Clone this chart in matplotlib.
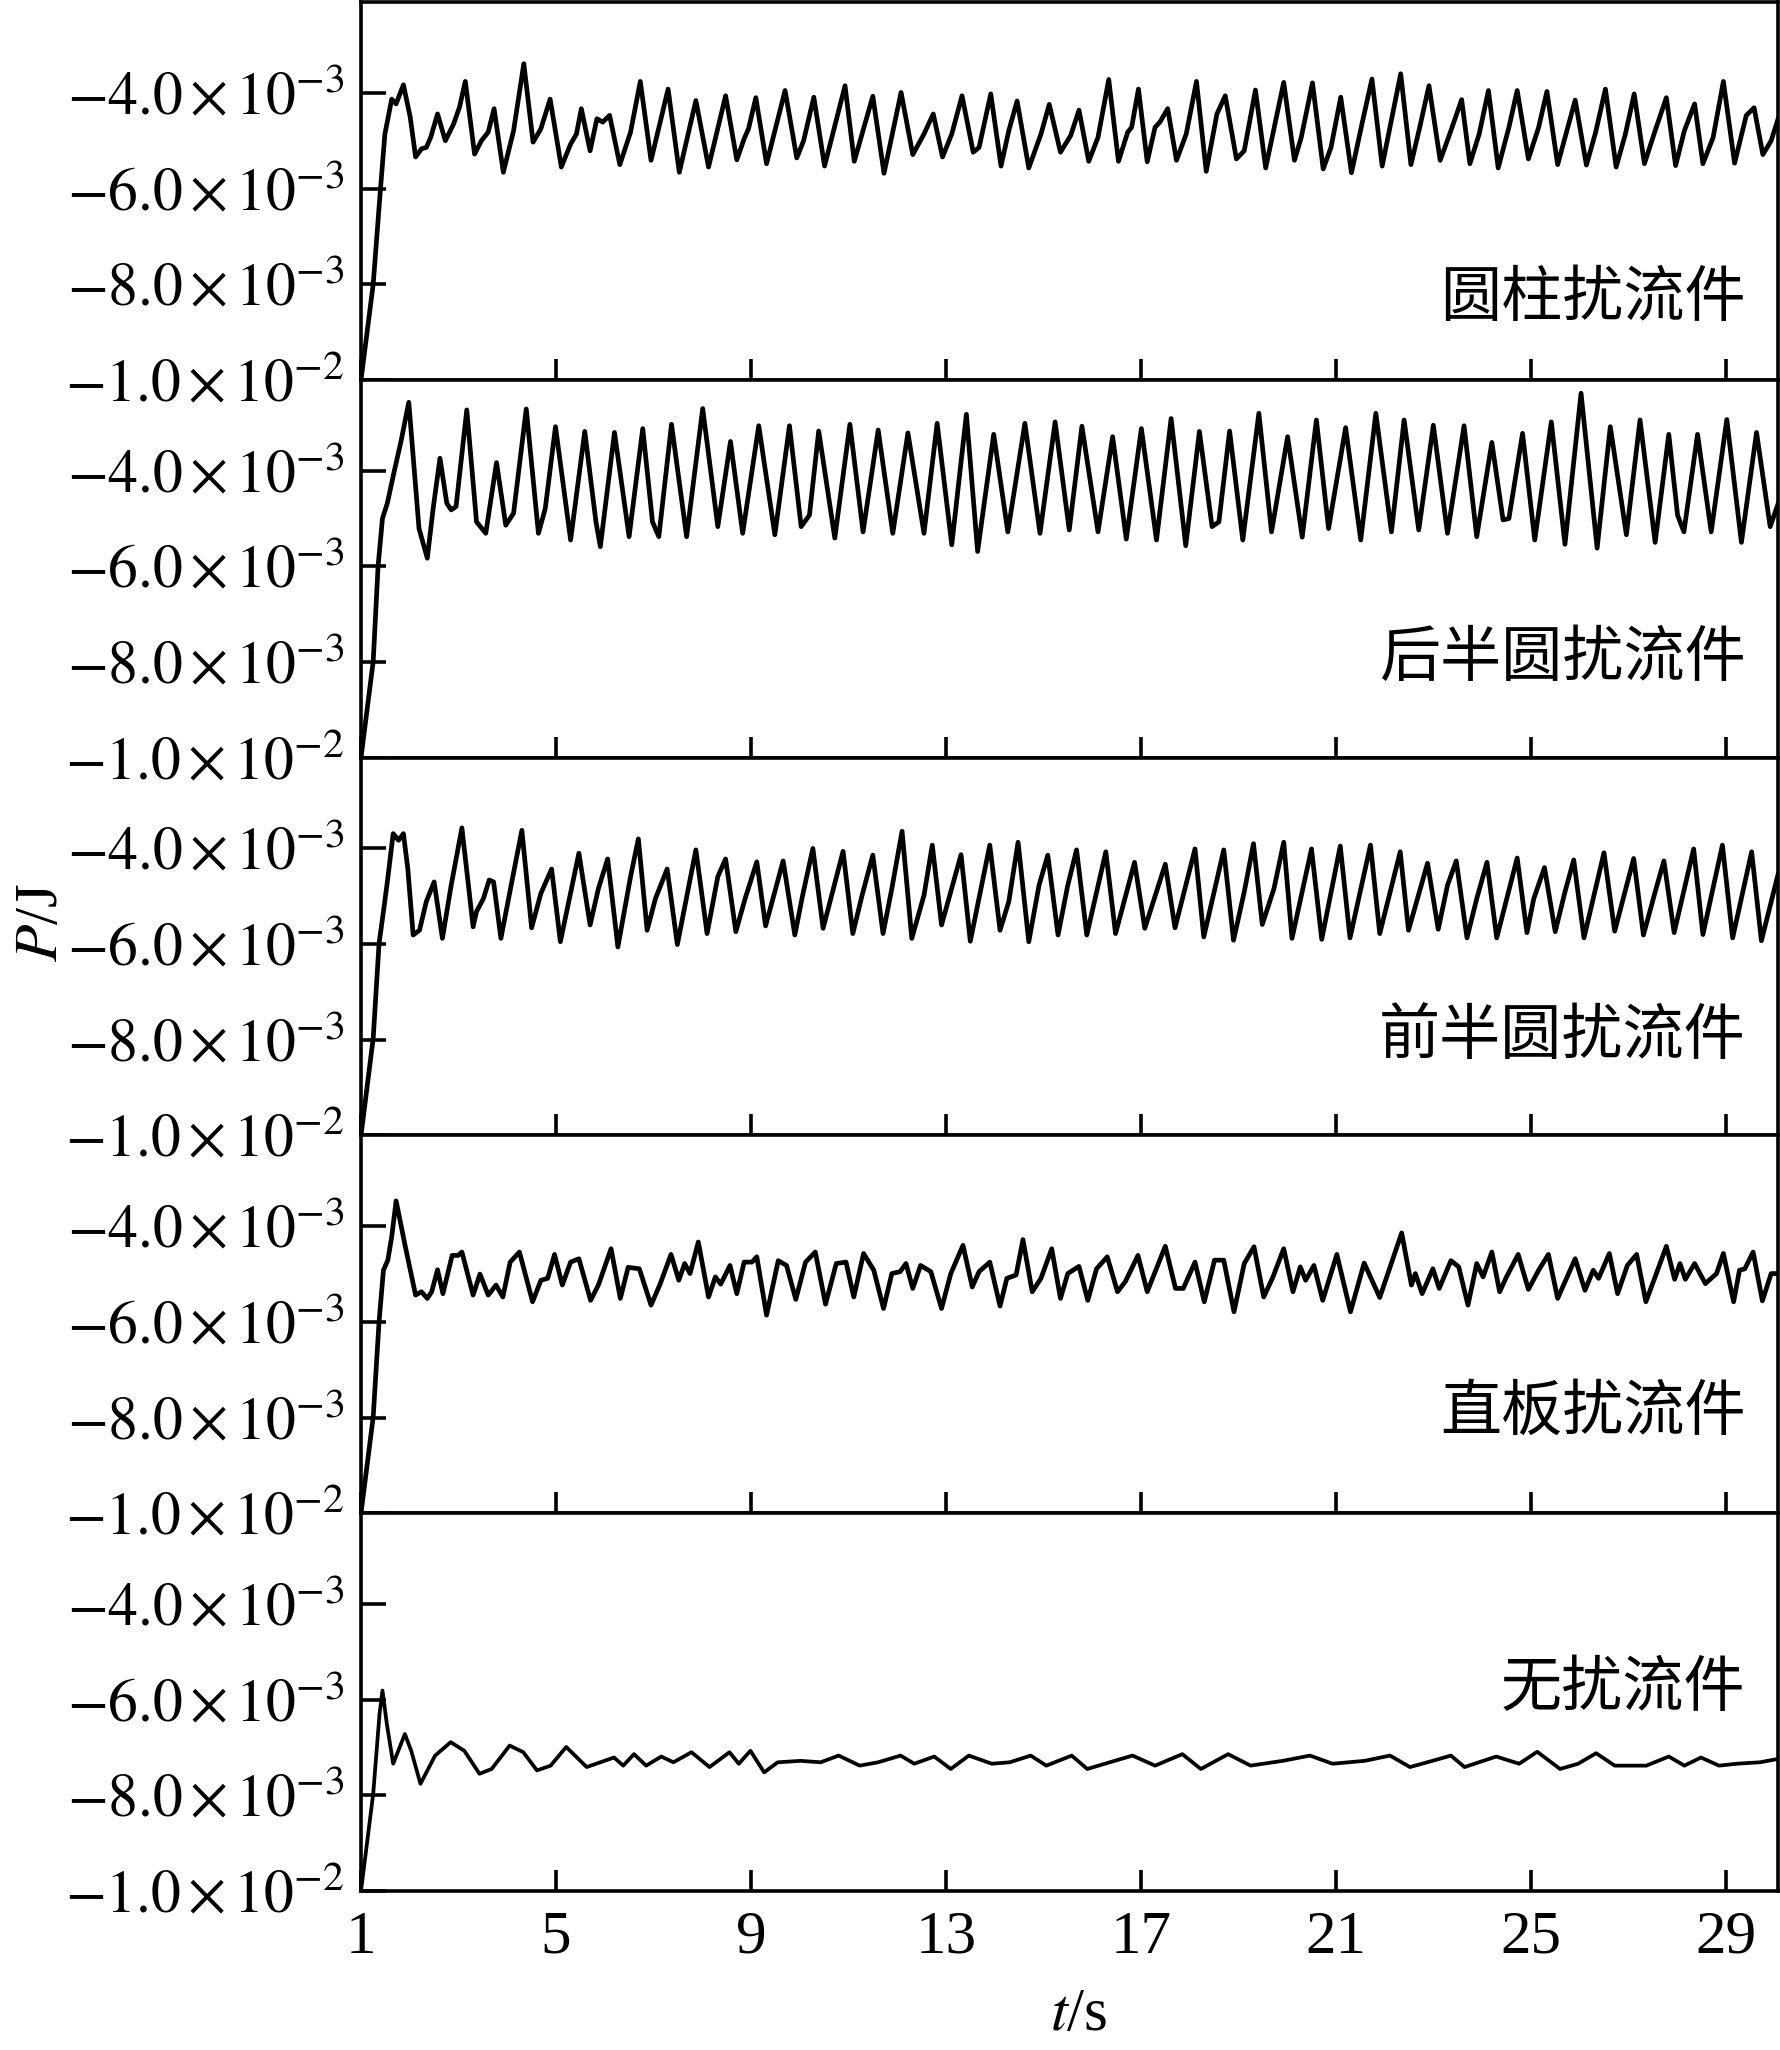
import numpy as np
import matplotlib.pyplot as plt

plt.rcParams['mathtext.fontset'] = 'stix'
plt.rcParams['font.family'] = ['Liberation Serif', 'DejaVu Serif']

# dados (t em s, P em 1e-3 J)
t_cyl = [1.0, 1.25, 1.40, 1.49, 1.63, 1.72, 1.87, 2.01, 2.12, 2.24, 2.34, 2.43, 2.57, 2.73, 2.90, 3.02, 3.14, 3.33,
         3.47, 3.61, 3.73, 3.92, 4.13, 4.34, 4.53, 4.69, 4.88, 5.11, 5.30, 5.42, 5.52, 5.70, 5.84, 5.96, 6.10, 6.31,
         6.53, 6.73, 6.95, 7.30, 7.53, 7.87, 8.13, 8.48, 8.71, 8.86, 8.95, 9.10, 9.32, 9.70, 9.94, 10.08, 10.29,
         10.51, 10.93, 11.12, 11.50, 11.73, 12.08, 12.32, 12.55, 12.74, 12.93, 13.12, 13.33, 13.56, 13.68, 13.92,
         14.13, 14.29, 14.46, 14.70, 14.95, 15.12, 15.35, 15.56, 15.73, 15.93, 16.12, 16.34, 16.54, 16.73, 16.81,
         16.95, 17.13, 17.29, 17.39, 17.55, 17.73, 17.93, 18.14, 18.34, 18.56, 18.73, 18.96, 19.12, 19.35, 19.56,
         19.93, 20.15, 20.29, 20.52, 20.74, 20.90, 21.10, 21.32, 21.55, 21.74, 21.95, 22.33, 22.54, 22.72, 22.91,
         23.14, 23.36, 23.58, 23.75, 23.94, 24.13, 24.33, 24.55, 24.72, 24.95, 25.16, 25.33, 25.55, 25.72, 25.91,
         26.14, 26.33, 26.53, 26.75, 26.94, 27.12, 27.33, 27.55, 27.78, 27.97, 28.15, 28.36, 28.53, 28.74, 28.95,
         29.18, 29.42, 29.58, 29.76, 29.93, 30.07]
p_cyl = [-10.0, -8.0, -6.0, -4.86, -4.13, -4.23, -3.83, -4.51, -5.34, -5.17, -5.14, -4.93, -4.44, -5.0, -4.65,
         -4.30, -3.76, -5.28, -5.0, -4.82, -4.33, -5.66, -4.79, -3.39, -5.03, -4.75, -4.13, -5.55, -5.07, -4.86,
         -4.33, -5.21, -4.54, -4.61, -4.47, -5.50, -4.82, -3.76, -5.41, -3.92, -5.66, -4.16, -5.55, -4.06, -5.40,
         -4.96, -4.75, -4.10, -5.48, -3.95, -5.36, -5.0, -4.09, -5.53, -3.85, -5.43, -4.07, -5.68, -3.99, -5.29,
         -4.86, -4.44, -5.34, -4.86, -4.06, -5.24, -5.14, -4.02, -5.53, -4.79, -4.17, -5.57, -4.86, -4.24, -5.24,
         -4.89, -4.36, -5.43, -4.93, -3.72, -5.43, -4.82, -4.72, -3.92, -5.44, -4.72, -4.61, -4.33, -5.41, -4.86,
         -3.76, -5.64, -4.44, -4.06, -5.38, -5.21, -3.94, -5.57, -3.78, -5.41, -4.93, -3.79, -5.59, -5.14, -4.09,
         -5.67, -4.58, -3.71, -5.53, -3.60, -5.50, -4.72, -3.85, -5.41, -4.79, -4.14, -5.48, -4.86, -3.95, -5.57,
         -4.72, -3.95, -5.38, -4.72, -3.97, -5.50, -4.86, -4.15, -5.51, -4.82, -3.92, -5.55, -4.86, -4.02, -5.48,
         -4.79, -4.10, -5.52, -4.79, -4.23, -5.48, -4.93, -3.76, -5.47, -4.47, -4.31, -5.29, -5.0, -4.55]

t_back = [1.0, 1.25, 1.35, 1.44, 1.54, 1.68, 1.82, 1.98, 2.19, 2.36, 2.48, 2.62, 2.76, 2.85, 2.95, 3.17, 3.37,
          3.56, 3.78, 3.97, 4.13, 4.39, 4.64, 4.78, 4.99, 5.30, 5.59, 5.82, 5.91, 6.20, 6.50, 6.78, 6.98, 7.11,
          7.37, 7.68, 8.01, 8.32, 8.58, 8.83, 9.16, 9.49, 9.79, 10.03, 10.20, 10.39, 10.72, 11.03, 11.30, 11.61,
          11.91, 12.22, 12.55, 12.82, 13.12, 13.42, 13.65, 13.98, 14.27, 14.62, 14.93, 15.24, 15.53, 15.79, 16.12,
          16.42, 16.70, 17.01, 17.32, 17.62, 17.92, 18.20, 18.46, 18.60, 18.82, 19.09, 19.42, 19.68, 20.01, 20.31,
          20.60, 20.85, 21.20, 21.51, 21.82, 22.14, 22.40, 22.70, 23.00, 23.29, 23.63, 23.89, 24.20, 24.43, 24.55,
          24.83, 25.08, 25.42, 25.70, 26.03, 26.36, 26.63, 26.96, 27.24, 27.55, 27.83, 28.01, 28.14, 28.42, 28.70,
          29.02, 29.32, 29.63, 29.91, 30.07]
p_back = [-10.0, -7.99, -6.0, -5.0, -4.68, -4.02, -3.39, -2.57, -5.21, -5.83, -4.79, -3.74, -4.68, -4.82, -4.75,
          -2.73, -5.07, -5.31, -3.83, -5.14, -4.89, -2.71, -5.31, -4.79, -3.08, -5.45, -3.18, -5.07, -5.59, -3.20,
          -5.38, -3.12, -5.07, -5.38, -3.03, -5.38, -2.70, -5.17, -3.39, -5.31, -3.06, -5.34, -3.06, -5.17, -4.93,
          -3.17, -5.41, -3.03, -5.28, -3.15, -5.31, -3.21, -5.31, -3.01, -5.55, -2.82, -5.69, -3.24, -5.28, -3.01,
          -5.31, -2.98, -5.24, -3.07, -5.28, -3.29, -5.43, -3.12, -5.45, -2.91, -5.57, -3.18, -5.17, -5.07, -3.17,
          -5.45, -2.80, -5.28, -3.29, -5.39, -2.94, -5.21, -3.10, -5.45, -2.80, -5.28, -2.94, -5.24, -3.05, -5.31,
          -3.06, -5.38, -3.41, -5.03, -5.0, -3.22, -5.45, -2.98, -5.54, -2.38, -5.62, -3.08, -5.34, -2.94, -5.50,
          -3.24, -4.93, -5.28, -3.24, -5.28, -2.93, -5.50, -3.20, -5.17, -4.70]

t_front = [1.0, 1.25, 1.37, 1.46, 1.54, 1.66, 1.77, 1.87, 1.96, 2.07, 2.20, 2.34, 2.50, 2.67, 2.85, 3.07, 3.30,
           3.37, 3.51, 3.63, 3.72, 3.87, 4.08, 4.30, 4.50, 4.69, 4.91, 5.09, 5.47, 5.70, 5.87, 6.06, 6.27, 6.53,
           6.69, 6.87, 7.04, 7.28, 7.49, 7.87, 8.10, 8.32, 8.48, 8.69, 8.88, 9.12, 9.30, 9.66, 9.90, 10.06, 10.27,
           10.48, 10.89, 11.09, 11.28, 11.50, 11.71, 11.89, 12.10, 12.30, 12.55, 12.72, 12.91, 13.31, 13.50, 13.90,
           14.11, 14.29, 14.48, 14.70, 14.91, 15.09, 15.30, 15.50, 15.68, 15.89, 16.28, 16.48, 16.87, 17.08, 17.50,
           17.70, 18.11, 18.29, 18.70, 18.90, 19.12, 19.31, 19.49, 19.73, 19.93, 20.10, 20.50, 20.71, 21.09, 21.29,
           21.71, 21.90, 22.32, 22.49, 22.88, 23.10, 23.29, 23.47, 23.69, 23.89, 24.10, 24.30, 24.72, 24.92, 25.06,
           25.28, 25.50, 25.70, 25.88, 26.09, 26.50, 26.72, 27.11, 27.31, 27.55, 27.73, 27.94, 28.34, 28.53, 28.93,
           29.14, 29.53, 29.73, 30.07]
p_front = [-10.0, -7.97, -5.99, -5.32, -4.70, -3.69, -3.83, -3.69, -4.42, -5.81, -5.71, -5.11, -4.70, -5.88,
           -4.77, -3.57, -5.64, -5.32, -5.05, -4.66, -4.70, -5.88, -4.77, -3.62, -5.66, -4.94, -4.43, -5.95, -4.10,
           -5.60, -4.84, -4.22, -6.06, -4.59, -3.80, -5.71, -5.05, -4.43, -6.01, -4.03, -5.78, -4.59, -4.22, -5.74,
           -5.05, -4.28, -5.62, -4.26, -5.81, -4.98, -4.0, -5.67, -4.06, -5.78, -4.98, -4.14, -5.78, -4.84, -3.64,
           -5.88, -4.98, -3.93, -5.60, -4.13, -5.94, -3.93, -5.71, -5.11, -3.87, -5.95, -4.77, -4.14, -5.81, -4.77,
           -4.03, -5.81, -4.07, -5.78, -4.29, -5.67, -4.33, -5.66, -4.01, -5.85, -4.03, -5.92, -4.91, -3.90, -5.59,
           -4.84, -3.87, -5.88, -4.01, -5.90, -3.95, -5.87, -3.93, -5.78, -4.07, -5.71, -4.31, -5.69, -4.77, -4.26,
           -5.87, -5.05, -4.29, -5.87, -4.20, -5.76, -5.05, -4.40, -5.74, -4.91, -4.24, -5.87, -4.09, -5.73, -4.21,
           -5.81, -4.91, -4.26, -5.76, -4.01, -5.80, -3.93, -5.87, -4.07, -5.93, -4.55]

t_plate = [1.0, 1.25, 1.37, 1.46, 1.55, 1.63, 1.72, 1.91, 2.12, 2.24, 2.36, 2.45, 2.57, 2.68, 2.87, 2.99, 3.07,
           3.30, 3.44, 3.61, 3.77, 3.91, 4.06, 4.25, 4.52, 4.69, 4.83, 4.97, 5.13, 5.30, 5.47, 5.71, 5.87, 6.13,
           6.32, 6.48, 6.71, 6.95, 7.14, 7.36, 7.52, 7.64, 7.75, 7.92, 8.13, 8.27, 8.38, 8.57, 8.71, 8.86, 9.02,
           9.12, 9.32, 9.56, 9.73, 9.92, 10.12, 10.32, 10.53, 10.75, 10.95, 11.11, 11.31, 11.52, 11.72, 11.89,
           12.06, 12.18, 12.32, 12.48, 12.69, 12.91, 13.10, 13.35, 13.54, 13.68, 13.90, 14.11, 14.25, 14.44, 14.58,
           14.77, 14.95, 15.17, 15.35, 15.50, 15.73, 15.91, 16.09, 16.31, 16.52, 16.68, 16.94, 17.13, 17.50, 17.71,
           17.87, 18.11, 18.30, 18.51, 18.70, 18.91, 19.12, 19.32, 19.52, 19.71, 19.93, 20.12, 20.27, 20.38, 20.55,
           20.73, 21.02, 21.30, 21.58, 21.90, 22.35, 22.55, 22.63, 22.77, 22.99, 23.12, 23.36, 23.52, 23.71, 23.89,
           24.02, 24.20, 24.36, 24.50, 24.74, 24.95, 25.16, 25.36, 25.55, 25.91, 26.11, 26.28, 26.39, 26.61, 26.78,
           26.98, 27.17, 27.36, 27.55, 27.78, 27.95, 28.06, 28.17, 28.36, 28.58, 28.81, 28.95, 29.16, 29.28, 29.39,
           29.56, 29.75, 29.93, 30.07]
p_plate = [-10.0, -7.99, -6.0, -4.92, -4.71, -4.22, -3.47, -4.43, -5.44, -5.37, -5.51, -5.37, -4.91, -5.41,
           -4.61, -4.61, -4.54, -5.44, -5.0, -5.44, -5.23, -5.48, -4.75, -4.54, -5.58, -5.13, -5.09, -4.59, -5.23,
           -4.75, -4.68, -5.55, -5.23, -4.47, -5.51, -4.86, -4.89, -5.65, -5.20, -4.59, -5.13, -4.78, -4.99, -4.33,
           -5.48, -5.06, -5.21, -4.82, -5.41, -4.75, -4.75, -4.64, -5.86, -4.72, -4.82, -5.53, -4.75, -4.54, -5.63,
           -4.78, -4.75, -5.48, -4.57, -4.92, -5.72, -4.99, -4.95, -4.78, -5.30, -4.82, -4.95, -5.72, -4.99, -4.40,
           -5.27, -4.95, -4.75, -5.67, -5.09, -5.02, -4.28, -5.37, -5.09, -4.47, -5.51, -4.99, -4.84, -5.55, -4.89,
           -4.64, -5.37, -5.16, -4.61, -5.37, -4.42, -5.30, -5.30, -4.75, -5.58, -4.71, -4.71, -5.79, -4.78, -4.43,
           -5.48, -5.06, -4.47, -5.37, -4.85, -5.13, -4.82, -5.55, -4.59, -5.79, -4.77, -5.49, -4.14, -5.23, -4.99,
           -5.41, -4.89, -5.30, -4.72, -4.85, -5.65, -4.78, -5.06, -4.54, -5.37, -5.06, -4.59, -5.32, -4.92, -4.59,
           -5.51, -4.68, -5.34, -4.92, -5.09, -4.57, -5.41, -4.82, -4.59, -5.58, -5.06, -4.42, -5.11, -4.78, -5.11,
           -4.78, -5.20, -4.99, -4.57, -5.58, -4.92, -4.89, -4.54, -5.56, -4.99, -4.99]

t_none = [1.0, 1.25, 1.38, 1.44, 1.53, 1.66, 1.90, 2.03, 2.22, 2.52, 2.84, 3.12, 3.43, 3.68, 4.05, 4.33, 4.61,
          4.89, 5.21, 5.63, 5.91, 6.19, 6.38, 6.60, 6.85, 7.16, 7.41, 7.78, 8.15, 8.56, 8.75, 8.99, 9.27, 9.55,
          10.02, 10.43, 10.80, 11.23, 11.61, 12.07, 12.35, 12.76, 13.10, 13.47, 13.94, 14.31, 14.74, 15.06, 15.58,
          15.90, 16.36, 16.83, 17.29, 17.85, 18.23, 18.79, 19.25, 19.91, 20.47, 20.93, 21.59, 22.11, 22.52, 22.98,
          23.36, 23.64, 24.29, 24.76, 25.13, 25.60, 25.97, 26.34, 26.72, 27.37, 27.83, 28.15, 28.49, 28.86, 29.23,
          29.70, 30.07]
p_none = [-10.0, -7.97, -6.3, -5.81, -6.51, -7.34, -6.72, -7.07, -7.76, -7.17, -6.89, -7.07, -7.55, -7.45, -6.96,
          -7.10, -7.48, -7.38, -6.99, -7.41, -7.31, -7.21, -7.38, -7.14, -7.38, -7.19, -7.31, -7.10, -7.41, -7.10,
          -7.34, -7.07, -7.52, -7.31, -7.28, -7.31, -7.17, -7.38, -7.31, -7.17, -7.34, -7.19, -7.45, -7.17, -7.34,
          -7.31, -7.17, -7.38, -7.17, -7.45, -7.31, -7.17, -7.38, -7.14, -7.45, -7.14, -7.38, -7.28, -7.17, -7.34,
          -7.28, -7.17, -7.41, -7.28, -7.17, -7.41, -7.19, -7.34, -7.09, -7.45, -7.34, -7.12, -7.38, -7.38, -7.19,
          -7.38, -7.21, -7.38, -7.34, -7.31, -7.24]

nomes = ['圆柱扰流件', '后半圆扰流件', '前半圆扰流件', '直板扰流件', '无扰流件']
series = [(t_cyl, p_cyl), (t_back, p_back), (t_front, p_front), (t_plate, p_plate), (t_none, p_none)]
label_y = [0.215, 0.262, 0.262, 0.265, 0.535]  # posição vertical do nome em cada painel

yticks = [-4e-3, -6e-3, -8e-3, -1e-2]
ylabels = [r'$-4.0\,{\times}\,10^{-3}$', r'$-6.0\,{\times}\,10^{-3}$',
           r'$-8.0\,{\times}\,10^{-3}$', r'$-1.0\,{\times}\,10^{-2}$']
xticks = [1, 5, 9, 13, 17, 21, 25, 29]

fig, axes = plt.subplots(5, 1, figsize=(17.81, 20.5), dpi=100, sharex=True)
fig.subplots_adjust(left=0.2027, right=0.9983, top=0.999, bottom=0.0776, hspace=0)

for i, ax in enumerate(axes):
    t, p = series[i]
    lw = 2.7 if i == 4 else 3.4
    ax.plot(t, np.array(p) * 1e-3, color='black', lw=lw, solid_joinstyle='round')
    ax.set_xlim(1, 30.07)
    ax.set_ylim(-0.01, -0.0021)
    ax.set_yticks(yticks)
    ax.set_yticklabels(ylabels)
    ax.set_xticks(xticks)
    ax.tick_params(direction='in', width=2.6, labelsize=44)
    ax.tick_params(axis='x', length=15, pad=14)
    ax.tick_params(axis='y', length=18, pad=12, labelsize=43)
    for s in ax.spines.values():
        s.set_linewidth(2.6)
    ax.text(0.977, label_y[i], nomes[i], transform=ax.transAxes, ha='right', va='center',
            fontsize=44, family=['Noto Sans CJK SC', 'DejaVu Sans'])

axes[-1].set_xticklabels([str(x) for x in xticks])
fig.text(0.024, 0.55, r'$P$/J', rotation=90, ha='center', va='center', fontsize=44)
fig.text(0.606, 0.017, r'$t$/s', ha='center', va='center', fontsize=44)

plt.savefig('out.png', dpi=100)
